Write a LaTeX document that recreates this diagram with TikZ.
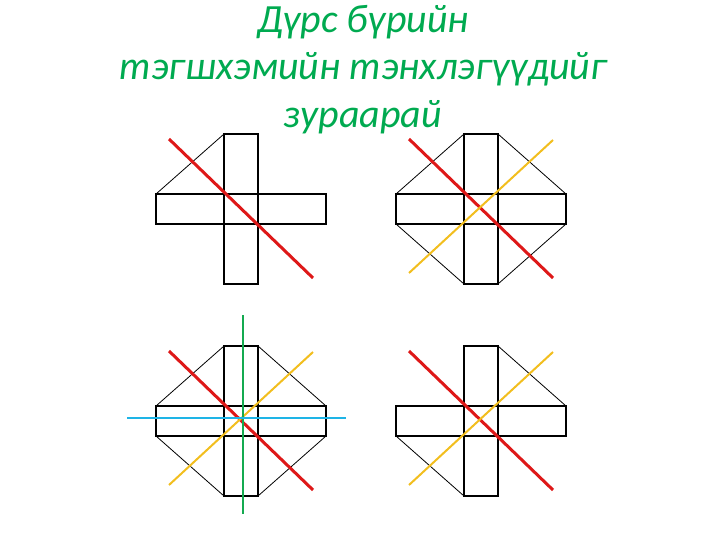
\documentclass[tikz,border=0pt]{standalone}
\usepackage{fontspec}
\setmainfont{Carlito}
\usepackage{tikz}
\tikzstyle{slide} = [x = 1pt, y = -1pt]
\definecolor{titleGreen}{RGB}{0,170,80}
\definecolor{axisRed}{RGB}{222,24,24}
\definecolor{axisYellow}{RGB}{242,190,30}
\definecolor{axisGreen}{RGB}{20,170,80}
\definecolor{axisBlue}{RGB}{30,180,230}
\tikzstyle{titleText} = [font=\fontsize{40}{48}\selectfont\itshape, text=titleGreen, anchor=base, inner sep=0pt]
\tikzstyle{barStyle} = [color=black, line width=2pt]
\tikzstyle{edgeLine} = [color=black, line width=.8pt]
\tikzstyle{redAxis} = [color=axisRed, line width=3pt]
\tikzstyle{yellowAxis} = [color=axisYellow, line width=2pt]
\tikzstyle{greenAxis} = [color=axisGreen, line width=2pt]
\tikzstyle{blueAxis} = [color=axisBlue, line width=2pt]
\newcommand{\crossShape}[2]{\draw [barStyle] (#1 - 17, #2 - 75) rectangle + (34, 150); \draw [barStyle] (#1 - 85, #2 - 15) rectangle + (170, 30);}
\newcommand{\edgeTopLeft}[2]{\draw [edgeLine] (#1 - 85, #2 - 15) -- (#1 - 17, #2 - 75);}
\newcommand{\edgeTopRight}[2]{\draw [edgeLine] (#1 + 85, #2 - 15) -- (#1 + 17, #2 - 75);}
\newcommand{\edgeBottomLeft}[2]{\draw [edgeLine] (#1 - 85, #2 + 15) -- (#1 - 17, #2 + 75);}
\newcommand{\edgeBottomRight}[2]{\draw [edgeLine] (#1 + 85, #2 + 15) -- (#1 + 17, #2 + 75);}
\newcommand{\redDiagonal}[2]{\draw [redAxis] (#1 - 72, #2 - 70) -- (#1 + 72, #2 + 69);}
\newcommand{\yellowDiagonal}[2]{\draw [yellowAxis] (#1 - 72, #2 + 64) -- (#1 + 72, #2 - 69);}

\begin{document}
\begin{tikzpicture}[slide]
\useasboundingbox (0, 0) rectangle (728, 546);
\node [titleText] (titleLineA) at (363, 32) {Дүрс бүрийн};
\node [titleText] (titleLineB) at (363, 79) {тэгшхэмийн тэнхлэгүүдийг};
\node [titleText] (titleLineC) at (363, 127) {зураарай};
% top left
\crossShape{241}{209}\edgeTopLeft{241}{209}\redDiagonal{241}{209}
% top right
\crossShape{481}{209}
\edgeTopLeft{481}{209}\edgeTopRight{481}{209}\edgeBottomLeft{481}{209}\edgeBottomRight{481}{209}
\redDiagonal{481}{209}\yellowDiagonal{481}{209}
% bottom left
\crossShape{241}{421}
\edgeTopLeft{241}{421}\edgeTopRight{241}{421}\edgeBottomLeft{241}{421}\edgeBottomRight{241}{421}
\redDiagonal{241}{421}\yellowDiagonal{241}{421}
\draw [greenAxis] (243, 315) -- (243, 514);
\draw [blueAxis] (127, 418) -- (346, 418);
% bottom right
\crossShape{481}{421}\edgeTopRight{481}{421}\edgeBottomLeft{481}{421}
\redDiagonal{481}{421}\yellowDiagonal{481}{421}
\end{tikzpicture}
\end{document}
